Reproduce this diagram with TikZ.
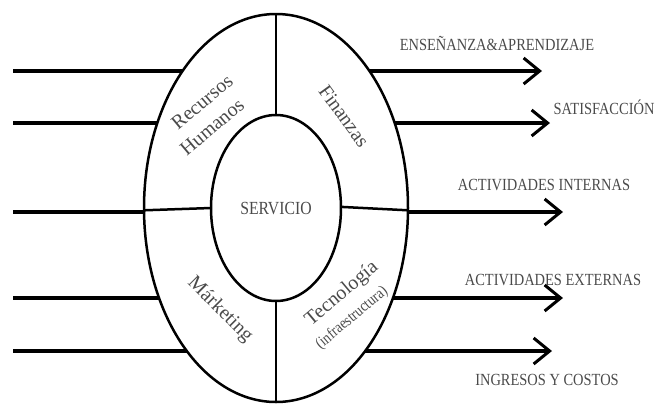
\documentclass[tikz,border=0pt]{standalone}
\usepackage{fontspec}
\setmainfont{Liberation Serif}
\newfontfamily\condfont[FakeStretch=0.85]{Liberation Serif}
\usetikzlibrary{arrows.meta,shapes.geometric}
\definecolor{txt}{HTML}{4A4A4A}
\begin{document}
\begin{tikzpicture}[x=1pt,y=-1pt,
  ring/.style={draw, ellipse, line width=2.5pt, inner sep=0pt, outer sep=0pt},
  divider/.style={line width=2.5pt},
  inline/.style={line width=4pt},
  outarrow/.style={line width=4pt, -{Straight Barb[length=16pt,width=26pt,line width=3pt]}},
  ringlabel/.style={text=txt, font=\fontsize{20}{24}\selectfont, inner sep=0pt},
  outlabel/.style={text=txt, font=\condfont\fontsize{17}{20}\selectfont, inner sep=0pt}
]
\useasboundingbox (0,0) rectangle (657,405);

\node[ring, minimum width=264pt, minimum height=388pt] (outer) at (276,208) {};
\node[ring, minimum width=130pt, minimum height=186pt] (inner) at (276,208) {};

% dividers
\draw[divider] (outer.north) -- (inner.north);
\draw[divider] (inner.south) -- (outer.south);
\draw[divider] (outer.181.7) -- (inner.180);
\draw[divider] (inner.1.5) -- (outer.-1.7);

% boundary points and free ends
\foreach \y/\n/\xe in {71/1/542,123/2/550,212/3/563,298/4/563,351/5/552} {
  \pgfmathsetmacro\dx{132*sqrt(1-((\y-208)/194)^2)}
  \coordinate (ls\n) at (13,\y);
  \coordinate (le\n) at ({276-\dx},\y);
  \coordinate (rs\n) at ({276+\dx},\y);
  \coordinate (re\n) at (\xe,\y);
}
\foreach \n in {1,...,5} {
  \draw[inline] (ls\n) -- (le\n);
  \draw[outarrow] (rs\n) -- (re\n);
}

% ring labels
\node[ringlabel, rotate=40] (rec) at (202,102) {Recursos};
\node[ringlabel, rotate=40] (hum) at (212,127) {Humanos};
\node[ringlabel, rotate=-54] (fin) at (344,116) {Finanzas};
\node[ringlabel, rotate=-45] (mar) at (220,310) {Márketing};
\node[ringlabel, rotate=40] (tec) at (342,294) {Tecnología};
\node[text=txt, font=\condfont\fontsize{16}{18}\selectfont, inner sep=0pt, rotate=40] (inf) at (352,318) {(infraestructura)};

\node[text=txt, font=\condfont\fontsize{18.5}{20}\selectfont, inner sep=0pt] (serv) at (276,209) {SERVICIO};

% output labels
\node[outlabel] (o1) at (497,43) {ENSEÑANZA\&APRENDIZAJE};
\node[outlabel] (o2) at (604,107) {SATISFACCIÓN};
\node[outlabel] (o3) at (544,185) {ACTIVIDADES INTERNAS};
\node[outlabel] (o4) at (553,280) {ACTIVIDADES EXTERNAS};
\node[outlabel] (o5) at (547,380) {INGRESOS Y COSTOS};
\end{tikzpicture}
\end{document}
